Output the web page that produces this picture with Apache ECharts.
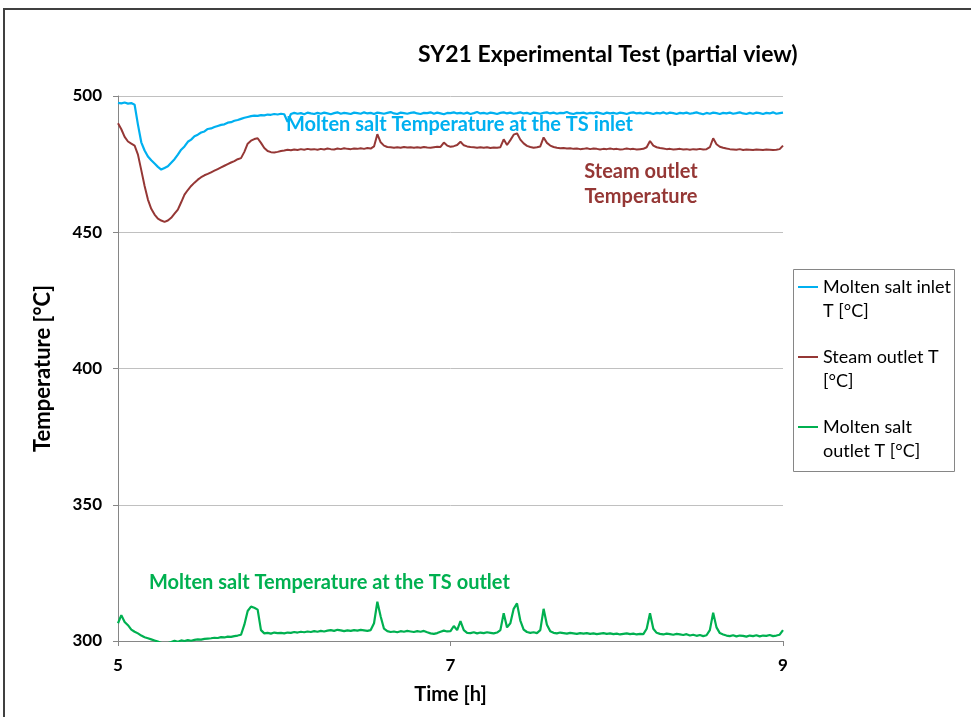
<!DOCTYPE html>
<html>
<head>
<meta charset="utf-8">
<script src="https://cdn.jsdelivr.net/npm/echarts@6/dist/echarts.min.js"></script>
<style>
html,body{margin:0;padding:0;background:#fff;}
#c{width:971px;height:717px;}
</style>
</head>
<body>
<div id="c"></div>
<script>
// Sample times [h]
const timeH = [
5.00,5.02,5.04,5.06,5.08,5.10,5.12,5.14,5.16,5.18,
5.20,5.22,5.24,5.26,5.28,5.30,5.32,5.34,5.36,5.38,
5.40,5.42,5.44,5.46,5.48,5.50,5.52,5.54,5.56,5.58,
5.60,5.62,5.64,5.66,5.68,5.70,5.72,5.74,5.76,5.78,
5.80,5.82,5.84,5.86,5.88,5.90,5.92,5.94,5.96,5.98,
6.00,6.02,6.04,6.06,6.08,6.10,6.12,6.14,6.16,6.18,
6.20,6.22,6.24,6.26,6.28,6.30,6.32,6.34,6.36,6.38,
6.40,6.42,6.44,6.46,6.48,6.50,6.52,6.54,6.56,6.58,
6.60,6.62,6.64,6.66,6.68,6.70,6.72,6.74,6.76,6.78,
6.80,6.82,6.84,6.86,6.88,6.90,6.92,6.94,6.96,6.98,
7.00,7.02,7.04,7.06,7.08,7.10,7.12,7.14,7.16,7.18,
7.20,7.22,7.24,7.26,7.28,7.30,7.32,7.34,7.36,7.38,
7.40,7.42,7.44,7.46,7.48,7.50,7.52,7.54,7.56,7.58,
7.60,7.62,7.64,7.66,7.68,7.70,7.72,7.74,7.76,7.78,
7.80,7.82,7.84,7.86,7.88,7.90,7.92,7.94,7.96,7.98,
8.00,8.02,8.04,8.06,8.08,8.10,8.12,8.14,8.16,8.18,
8.20,8.22,8.24,8.26,8.28,8.30,8.32,8.34,8.36,8.38,
8.40,8.42,8.44,8.46,8.48,8.50,8.52,8.54,8.56,8.58,
8.60,8.62,8.64,8.66,8.68,8.70,8.72,8.74,8.76,8.78,
8.80,8.82,8.84,8.86,8.88,8.90,8.92,8.94,8.96,8.98,
9.00];

// Molten salt inlet T [°C]
const saltInlet = [
497.5,497.3,497.6,497.2,497.4,496.8,489.5,483.0,480.0,477.8,
476.4,475.2,474.0,473.0,473.6,474.2,475.5,476.8,478.5,480.3,
481.5,483.2,484.0,485.2,485.8,486.6,487.0,487.9,488.1,488.6,
489.0,489.4,489.6,490.2,490.4,490.9,491.2,491.6,492.0,492.3,
492.6,492.8,492.7,493.0,492.9,493.2,493.1,493.4,493.2,493.5,
493.3,490.5,493.4,493.8,493.5,493.7,493.3,493.9,493.6,493.4,
493.8,493.5,493.9,493.6,493.3,493.7,494.0,493.5,493.8,493.6,
493.4,493.9,493.7,493.5,494.0,493.6,493.8,493.4,493.9,493.7,
493.5,493.8,494.1,493.6,493.4,493.9,493.7,493.5,493.8,494.0,
493.6,493.4,493.8,493.7,494.0,493.5,493.9,493.6,493.3,493.8,
493.7,494.0,493.6,493.8,493.5,493.9,493.4,493.7,494.1,493.6,
493.8,493.5,493.9,493.7,493.4,493.8,494.0,493.6,493.9,493.5,
493.7,494.0,493.6,493.8,493.4,493.9,493.7,493.5,493.8,494.0,
493.6,493.9,493.5,493.8,493.7,494.1,493.6,493.4,493.8,493.7,
493.9,493.5,493.8,493.6,494.0,493.7,493.4,493.9,493.6,493.8,
493.5,493.9,493.7,493.4,493.8,494.0,493.6,493.8,493.5,493.9,
493.7,493.4,493.8,493.6,494.0,493.5,493.9,493.7,493.4,493.8,
493.6,493.9,493.5,493.7,494.0,493.6,493.3,493.8,493.5,493.9,
493.7,493.4,493.8,493.6,493.9,493.5,493.7,494.0,493.6,493.4,
493.8,493.5,493.9,493.7,493.4,493.8,493.6,494.0,493.5,493.7,
493.9];

// Steam outlet T [°C]
const steamOutlet = [
490.0,487.8,485.0,483.3,482.5,481.8,478.5,472.8,467.0,462.0,
458.6,456.5,455.0,454.3,453.8,454.3,455.3,456.8,458.3,461.0,
463.8,465.5,467.0,468.2,469.3,470.2,470.9,471.4,472.0,472.6,
473.2,473.8,474.4,475.0,475.6,476.1,476.8,477.2,479.5,482.5,
483.6,484.2,484.5,482.8,480.9,479.8,479.4,479.3,479.5,479.8,
480.0,480.3,480.1,480.4,480.2,480.5,480.3,480.6,480.4,480.5,
480.3,480.6,480.4,480.7,480.5,480.4,480.7,480.5,480.8,480.6,
480.5,480.7,480.6,480.8,480.6,480.9,480.7,481.5,486.0,483.0,
481.8,481.3,481.2,481.0,481.2,481.0,481.3,481.1,481.2,481.0,
481.2,481.0,481.3,481.1,481.0,481.2,481.4,481.3,482.9,481.8,
481.4,481.6,482.0,483.2,481.9,481.5,481.3,481.2,481.0,481.2,
481.0,481.2,480.9,481.1,481.0,481.2,484.1,482.0,483.8,485.8,
486.3,484.0,482.6,481.7,481.3,481.0,481.2,481.5,484.8,482.8,
481.8,481.3,481.0,480.8,480.9,480.7,480.8,480.6,480.7,480.5,
480.6,480.8,480.5,480.7,480.6,480.4,480.6,480.5,480.7,480.5,
480.6,480.4,480.5,480.7,480.5,480.6,480.4,480.5,480.6,481.2,
483.5,481.8,481.2,480.9,480.7,480.5,480.6,480.4,480.5,480.6,
480.4,480.5,480.3,480.5,480.4,480.6,480.4,480.5,481.2,484.5,
482.3,481.4,481.0,480.7,480.5,480.4,480.3,480.5,480.2,480.4,
480.3,480.2,480.4,480.3,480.2,480.4,480.3,480.2,480.3,480.5,
481.8];

// Molten salt outlet T [°C]
const saltOutlet = [
306.5,309.5,307.0,305.8,304.2,303.4,302.8,302.0,301.4,301.0,
300.6,300.2,299.8,299.3,299.0,299.2,299.6,300.1,299.7,300.2,
300.0,300.3,300.1,300.4,300.6,300.5,300.8,300.9,301.0,301.2,
301.1,301.4,301.3,301.6,301.5,301.8,302.0,302.3,306.0,311.0,
312.6,312.2,311.5,304.0,302.8,303.0,302.7,303.1,302.9,303.0,
302.8,303.1,303.0,303.3,303.1,303.4,303.2,303.5,303.3,303.6,
303.4,303.7,303.5,303.8,304.0,303.7,304.1,303.9,303.6,303.9,
303.7,304.0,303.8,304.1,303.9,303.7,304.0,306.5,314.4,309.0,
304.5,303.6,303.3,303.5,303.2,303.6,303.4,303.7,303.5,303.3,
303.6,303.4,303.7,303.2,302.8,302.6,302.9,303.4,303.8,303.5,
303.6,305.5,304.0,307.3,304.0,303.0,302.9,303.2,302.8,303.1,
302.9,303.2,303.0,302.8,303.1,304.0,310.2,305.0,306.5,311.8,
313.8,307.5,304.2,303.3,303.0,303.2,302.9,304.0,311.8,306.0,
303.6,303.0,302.8,303.1,302.9,302.7,303.0,302.8,302.6,302.9,
302.7,302.9,302.6,302.8,302.5,302.7,302.9,302.6,302.8,302.5,
302.7,302.4,302.6,302.8,302.5,302.7,302.4,302.6,302.5,304.5,
310.2,304.5,303.0,302.6,302.4,302.7,302.5,302.3,302.6,302.4,
302.2,302.5,302.0,302.3,301.9,302.2,301.8,302.1,304.0,310.4,
305.0,302.9,302.4,302.0,301.8,302.1,301.7,302.0,301.9,301.6,
302.0,301.8,302.1,301.7,302.0,301.9,302.2,301.8,302.0,302.3,
304.0];

const seriesNames = ['Molten salt inlet T [°C]', 'Steam outlet T [°C]', 'Molten salt outlet T [°C]'];
const legendLabels = ['Molten salt inlet\nT [°C]', 'Steam outlet T\n[°C]', 'Molten salt\noutlet T [°C]'];
const colors = ['#00B0F0', '#953735', '#00B050'];

function pairs(vals){ return vals.map((v,i)=>[timeH[i], v]); }

const FONT = 'Lato, "Open Sans", sans-serif';
const chart = echarts.init(document.getElementById('c'), null, {renderer:'canvas'});
chart.setOption({
  animation: false,
  backgroundColor: '#ffffff',
  title: {
    text: 'SY21 Experimental Test (partial view)',
    left: 413, top: 38,
    textStyle: {fontFamily: FONT, fontWeight: 'bold', fontSize: 23, color: '#000'}
  },
  grid: {left: 118, right: 188, top: 96, bottom: 76},
  legend: {
    orient: 'vertical', left: 798, top: 251, padding: 0,
    itemWidth: 20, itemHeight: 2, itemGap: -2, icon: 'rect',
    data: seriesNames,
    formatter: function(name){ return '\n' + legendLabels[seriesNames.indexOf(name)]; },
    textStyle: {fontFamily: FONT, fontSize: 18, color: '#000', lineHeight: 24}
  },
  xAxis: {
    type: 'value', min: 5, max: 9, interval: 2,
    name: 'Time [h]', nameLocation: 'middle', nameGap: 44,
    nameTextStyle: {fontFamily: FONT, fontWeight: 'bold', fontSize: 20, color: '#000'},
    axisLine: {show: true, lineStyle: {color: '#868686', width: 1}},
    axisTick: {show: true, length: 5, lineStyle: {color: '#868686'}},
    axisLabel: {fontFamily: FONT, fontWeight: 'bold', fontSize: 17, color: '#000', margin: 16},
    splitLine: {show: false}
  },
  yAxis: {
    type: 'value', min: 300, max: 500, interval: 50,
    name: 'Temperature [°C]', nameLocation: 'middle', nameGap: 64,
    nameTextStyle: {fontFamily: FONT, fontWeight: 'bold', fontSize: 22, color: '#000'},
    axisLine: {show: true, lineStyle: {color: '#868686', width: 1}},
    axisTick: {show: true, length: 5, lineStyle: {color: '#868686'}},
    axisLabel: {fontFamily: FONT, fontWeight: 'bold', fontSize: 17, color: '#000', margin: 16},
    splitLine: {show: true, lineStyle: {color: '#c0c0c0', width: 1}}
  },
  series: [
    {name: seriesNames[0], type: 'line', data: pairs(saltInlet), showSymbol: false, color: colors[0], lineStyle: {width: 2.2, color: colors[0]}, clip: true},
    {name: seriesNames[1], type: 'line', data: pairs(steamOutlet), showSymbol: false, color: colors[1], lineStyle: {width: 2, color: colors[1]}, clip: true},
    {name: seriesNames[2], type: 'line', data: pairs(saltOutlet), showSymbol: false, color: colors[2], lineStyle: {width: 2.2, color: colors[2]}, clip: true}
  ],
  graphic: [
    {type: 'rect', shape: {x: 4, y: 9, width: 1000, height: 800}, style: {fill: 'none', stroke: '#404040', lineWidth: 2}, silent: true, z: -1},
    {type: 'rect', shape: {x: 793.5, y: 269.5, width: 161, height: 202}, style: {fill: 'none', stroke: '#868686', lineWidth: 1}, silent: true},
    {type: 'text', x: 286, y: 125, style: {text: 'Molten salt Temperature at the TS inlet', fill: '#00B0F0', font: 'bold 20px ' + FONT, verticalAlign: 'middle'}},
    {type: 'text', x: 641, y: 172, style: {text: 'Steam outlet', fill: '#953735', font: 'bold 20px ' + FONT, align: 'center', verticalAlign: 'middle'}},
    {type: 'text', x: 641, y: 197, style: {text: 'Temperature', fill: '#953735', font: 'bold 20px ' + FONT, align: 'center', verticalAlign: 'middle'}},
    {type: 'text', x: 149, y: 583, style: {text: 'Molten salt Temperature at the TS outlet', fill: '#00B050', font: 'bold 20px ' + FONT, verticalAlign: 'middle'}}
  ]
});
</script>
</body>
</html>
